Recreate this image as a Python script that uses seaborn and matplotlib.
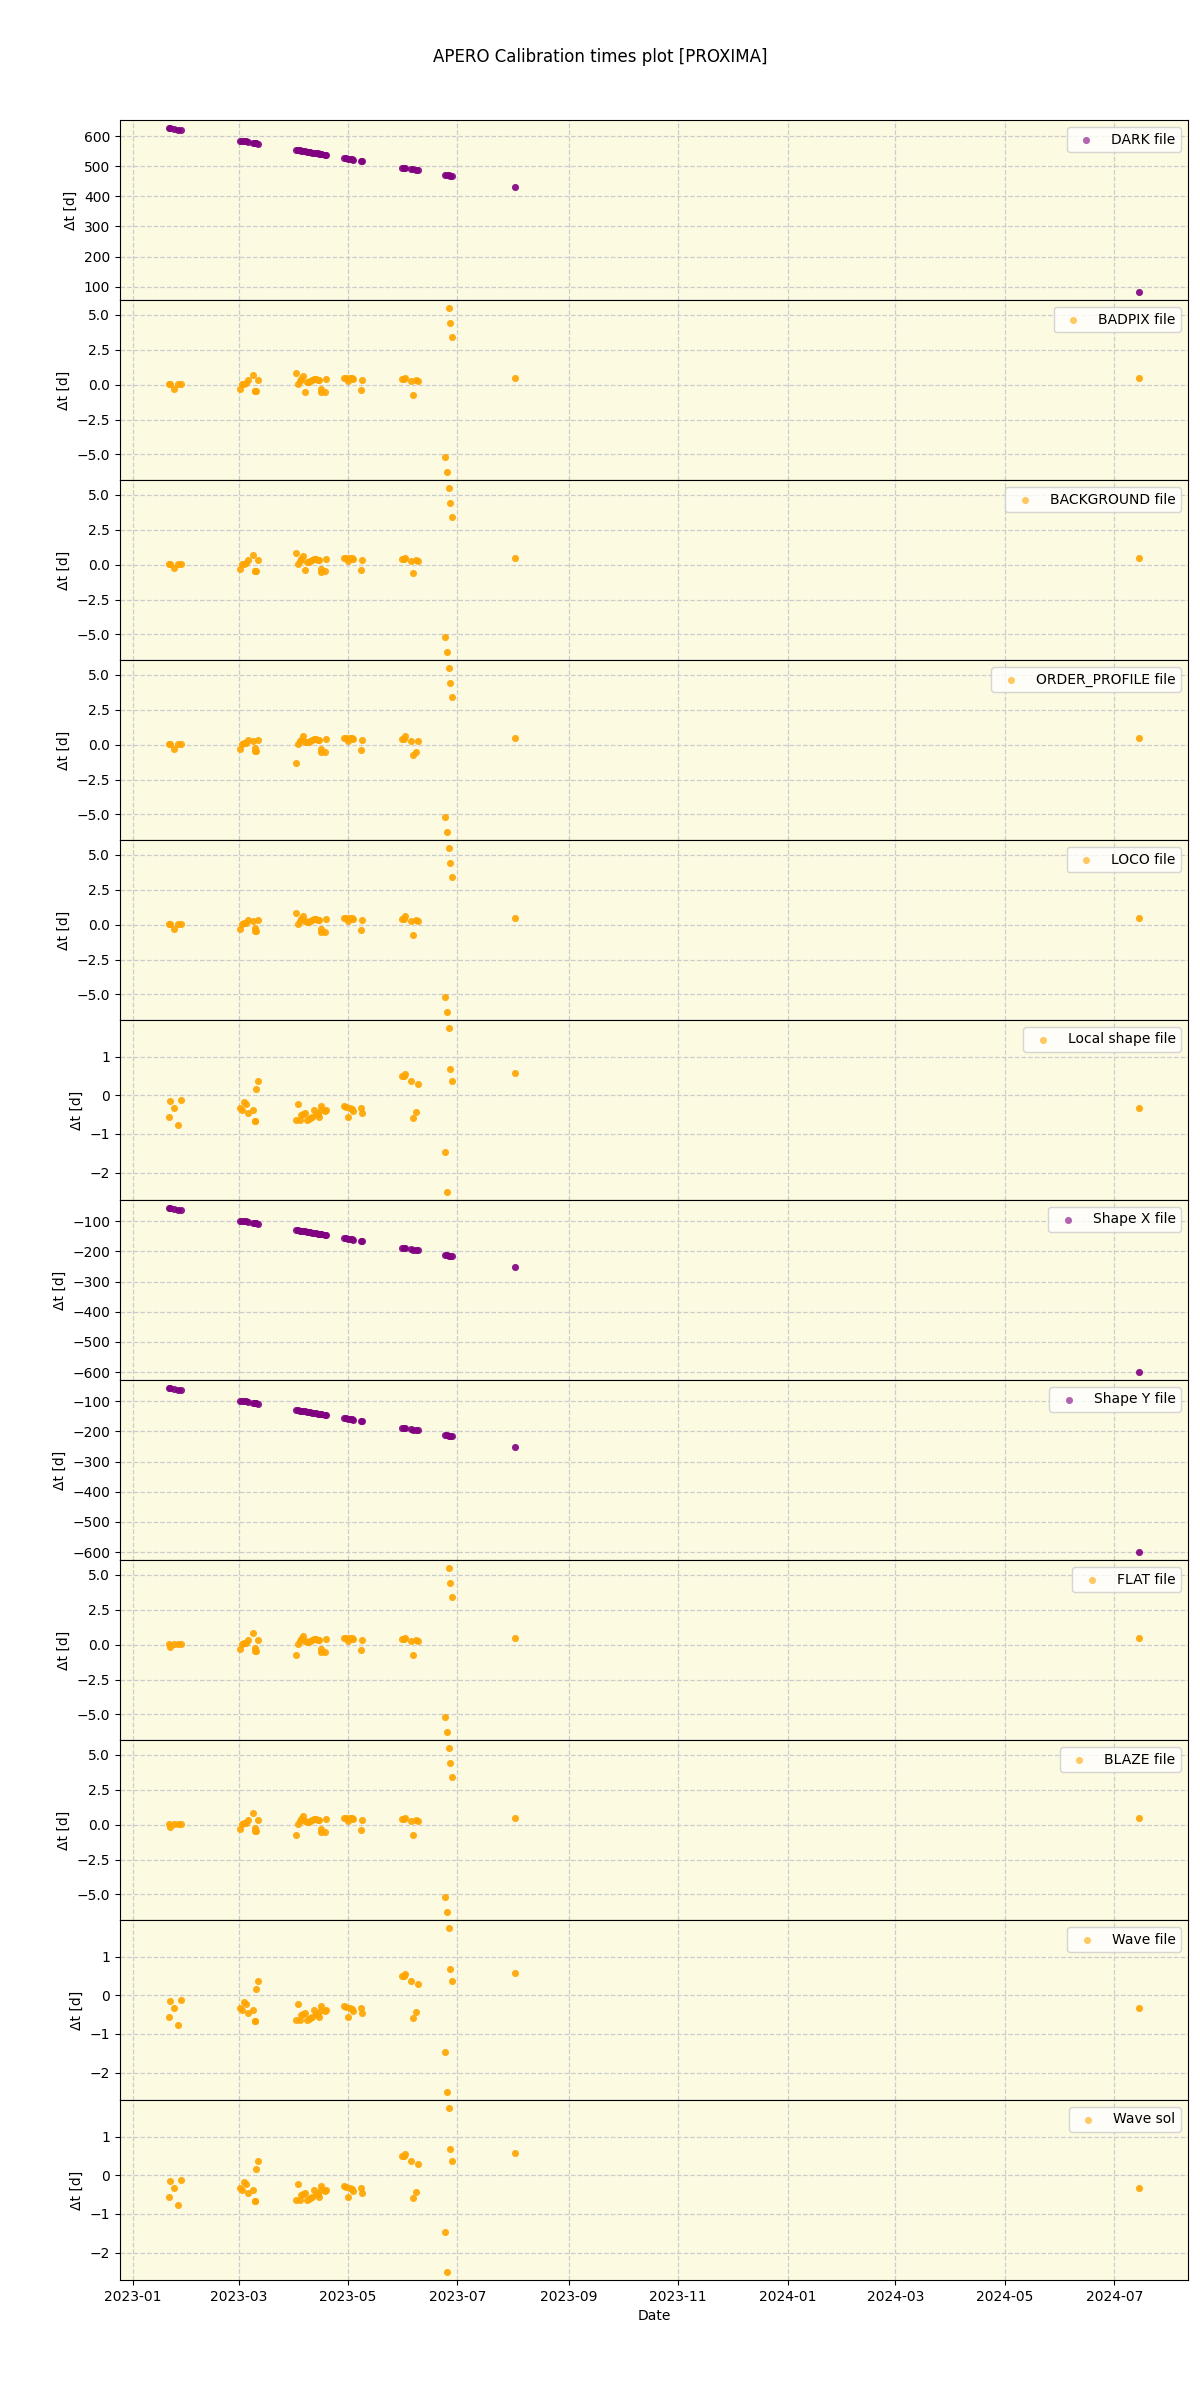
import matplotlib
matplotlib.use('Agg')
import matplotlib.pyplot as plt
import matplotlib.dates as mdates
import seaborn as sns
import pandas as pd

# ---------------- data ----------------
obs_dates = [
    '2023-01-21', '2023-01-22', '2023-01-24', '2023-01-26', '2023-01-28',
    '2023-03-02', '2023-03-03', '2023-03-04', '2023-03-05', '2023-03-06',
    '2023-03-09', '2023-03-10', '2023-03-10', '2023-03-11', '2023-03-12',
    '2023-04-02', '2023-04-03', '2023-04-04', '2023-04-05', '2023-04-06',
    '2023-04-07', '2023-04-08', '2023-04-09', '2023-04-10', '2023-04-11',
    '2023-04-12', '2023-04-13', '2023-04-14', '2023-04-15', '2023-04-16',
    '2023-04-16', '2023-04-18', '2023-04-19',
    '2023-04-29', '2023-04-30', '2023-05-01', '2023-05-02', '2023-05-03',
    '2023-05-04', '2023-05-08', '2023-05-09',
    '2023-05-31', '2023-06-01', '2023-06-02', '2023-06-05', '2023-06-06',
    '2023-06-08', '2023-06-09',
    '2023-06-24', '2023-06-25', '2023-06-26', '2023-06-27', '2023-06-28',
    '2023-08-02', '2024-07-15',
]

dark_dt = [
    626, 625, 623, 621, 619,
    585, 584, 583, 582, 581, 578, 577, 577, 576, 575,
    554, 553, 552, 551, 550, 549, 548, 547, 546, 545, 544, 543, 542, 541, 540, 540, 538, 537,
    527, 526, 525, 524, 523, 522, 518, 517,
    495, 494, 493, 490, 489, 487, 486,
    471, 470, 469, 468, 467,
    432, 83,
]

badpix_dt = [
    0.05, 0.05, -0.30, 0.05, 0.05,
    -0.31, 0.05, 0.07, 0.12, 0.29, 0.71, -0.43, -0.43, -0.43, 0.33,
    0.83, 0.05, 0.24, 0.40, 0.64, -0.52, 0.17, 0.19, 0.24, 0.29, 0.40, 0.40, 0.36, 0.36, -0.31, -0.52, -0.52, 0.40,
    0.48, 0.48, 0.24, 0.48, 0.48, 0.40, -0.38, 0.29,
    0.40, 0.40, 0.48, 0.24, -0.74, 0.36, 0.24,
    -5.16, -6.24, 5.46, 4.39, 3.39,
    0.46, 0.50,
]

background_dt = [
    0.05, 0.05, -0.25, 0.05, 0.05,
    -0.31, 0.05, 0.07, 0.12, 0.29, 0.71, -0.43, -0.43, -0.43, 0.33,
    0.83, 0.05, 0.24, 0.40, 0.64, -0.40, 0.17, 0.19, 0.24, 0.29, 0.40, 0.40, 0.36, 0.36, -0.31, -0.50, -0.45, 0.40,
    0.48, 0.48, 0.24, 0.48, 0.48, 0.40, -0.38, 0.29,
    0.40, 0.40, 0.48, 0.24, -0.60, 0.36, 0.24,
    -5.16, -6.24, 5.46, 4.39, 3.39,
    0.46, 0.50,
]

order_profile_dt = [
    0.05, 0.05, -0.30, 0.05, 0.05,
    -0.31, 0.05, 0.12, 0.12, 0.31, 0.24, -0.24, -0.43, -0.43, 0.36,
    -1.31, 0.05, 0.24, 0.36, 0.64, 0.19, 0.17, 0.19, 0.24, 0.29, 0.40, 0.40, 0.36, 0.36, -0.31, -0.52, -0.52, 0.40,
    0.48, 0.48, 0.24, 0.48, 0.48, 0.40, -0.38, 0.29,
    0.40, 0.40, 0.60, 0.24, -0.74, -0.50, 0.24,
    -5.16, -6.24, 5.46, 4.39, 3.39,
    0.50, 0.50,
]

loco_dt = [
    0.05, 0.05, -0.30, 0.05, 0.05,
    -0.31, 0.05, 0.12, 0.12, 0.31, 0.24, -0.24, -0.43, -0.43, 0.36,
    0.83, 0.05, 0.24, 0.40, 0.64, 0.24, 0.17, 0.19, 0.24, 0.29, 0.40, 0.40, 0.36, 0.36, -0.31, -0.52, -0.52, 0.40,
    0.48, 0.48, 0.24, 0.48, 0.48, 0.40, -0.38, 0.29,
    0.40, 0.40, 0.60, 0.24, -0.74, 0.36, 0.24,
    -5.16, -6.24, 5.46, 4.39, 3.39,
    0.50, 0.50,
]

local_shape_dt = [
    -0.56, -0.15, -0.32, -0.76, -0.11,
    -0.32, -0.39, -0.16, -0.22, -0.47, -0.37, -0.66, -0.67, 0.16, 0.38,
    -0.63, -0.22, -0.63, -0.52, -0.49, -0.45, -0.65, -0.62, -0.60, -0.55, -0.39, -0.49, -0.49, -0.57, -0.39, -0.27, -0.41, -0.37,
    -0.28, -0.30, -0.55, -0.33, -0.36, -0.41, -0.32, -0.46,
    0.50, 0.49, 0.55, 0.38, -0.60, -0.42, 0.30,
    -1.48, -2.50, 1.74, 0.69, 0.38,
    0.58, -0.33,
]

shape_x_dt = [
    -57, -58, -60, -62, -64,
    -98, -99, -100, -101, -102, -105, -106, -106, -107, -108,
    -129, -130, -131, -132, -133, -134, -135, -136, -137, -138, -139, -140, -141, -142, -143, -143, -145, -146,
    -156, -157, -158, -159, -160, -161, -165, -166,
    -188, -189, -190, -193, -194, -196, -197,
    -212, -213, -214, -215, -216,
    -251, -599,
]

shape_y_dt = [
    -57, -58, -60, -62, -64,
    -98, -99, -100, -101, -102, -105, -106, -106, -107, -108,
    -129, -130, -131, -132, -133, -134, -135, -136, -137, -138, -139, -140, -141, -142, -143, -143, -145, -146,
    -156, -157, -158, -159, -160, -161, -165, -166,
    -188, -189, -190, -193, -194, -196, -197,
    -212, -213, -214, -215, -216,
    -251, -599,
]

flat_dt = [
    0.05, -0.20, 0.05, 0.05, 0.05,
    -0.31, 0.05, 0.12, 0.12, 0.31, 0.80, -0.24, -0.43, -0.43, 0.36,
    -0.75, 0.05, 0.24, 0.40, 0.64, 0.24, 0.17, 0.19, 0.24, 0.29, 0.40, 0.40, 0.36, 0.36, -0.31, -0.52, -0.52, 0.40,
    0.48, 0.48, 0.24, 0.48, 0.48, 0.40, -0.38, 0.29,
    0.40, 0.40, 0.48, 0.24, -0.74, 0.36, 0.24,
    -5.16, -6.24, 5.46, 4.39, 3.39,
    0.50, 0.50,
]

blaze_dt = [
    0.05, -0.20, 0.05, 0.05, 0.05,
    -0.31, 0.05, 0.12, 0.12, 0.31, 0.80, -0.24, -0.43, -0.43, 0.36,
    -0.75, 0.05, 0.24, 0.40, 0.64, 0.24, 0.17, 0.19, 0.24, 0.29, 0.40, 0.40, 0.36, 0.36, -0.31, -0.52, -0.52, 0.40,
    0.48, 0.48, 0.24, 0.48, 0.48, 0.40, -0.38, 0.29,
    0.40, 0.40, 0.48, 0.24, -0.74, 0.36, 0.24,
    -5.16, -6.24, 5.46, 4.39, 3.39,
    0.50, 0.50,
]

wave_file_dt = [
    -0.56, -0.15, -0.32, -0.76, -0.11,
    -0.32, -0.39, -0.16, -0.22, -0.47, -0.37, -0.66, -0.67, 0.16, 0.38,
    -0.63, -0.22, -0.63, -0.52, -0.49, -0.45, -0.65, -0.62, -0.60, -0.55, -0.39, -0.49, -0.49, -0.57, -0.39, -0.27, -0.41, -0.37,
    -0.28, -0.30, -0.55, -0.33, -0.36, -0.41, -0.32, -0.46,
    0.50, 0.49, 0.55, 0.38, -0.60, -0.42, 0.30,
    -1.48, -2.50, 1.74, 0.69, 0.38,
    0.58, -0.33,
]

wave_sol_dt = [
    -0.56, -0.15, -0.32, -0.76, -0.11,
    -0.32, -0.39, -0.16, -0.22, -0.47, -0.37, -0.66, -0.67, 0.16, 0.38,
    -0.63, -0.22, -0.63, -0.52, -0.49, -0.45, -0.65, -0.62, -0.60, -0.55, -0.39, -0.49, -0.49, -0.57, -0.39, -0.27, -0.41, -0.37,
    -0.28, -0.30, -0.55, -0.33, -0.36, -0.41, -0.32, -0.46,
    0.50, 0.49, 0.55, 0.38, -0.60, -0.42, 0.30,
    -1.48, -2.50, 1.74, 0.69, 0.38,
    0.58, -0.33,
]

panel_labels = ['DARK file', 'BADPIX file', 'BACKGROUND file', 'ORDER_PROFILE file',
                'LOCO file', 'Local shape file', 'Shape X file', 'Shape Y file',
                'FLAT file', 'BLAZE file', 'Wave file', 'Wave sol']
panel_values = [dark_dt, badpix_dt, background_dt, order_profile_dt, loco_dt,
                local_shape_dt, shape_x_dt, shape_y_dt, flat_dt, blaze_dt,
                wave_file_dt, wave_sol_dt]
panel_colors = ['purple', 'orange', 'orange', 'orange', 'orange', 'orange',
                'purple', 'purple', 'orange', 'orange', 'orange', 'orange']

title = 'APERO Calibration times plot [PROXIMA]'

# ---------------- plot ----------------
dates = pd.to_datetime(obs_dates)

fig, axes = plt.subplots(len(panel_labels), 1, figsize=(12, 24), dpi=100, sharex=True)
fig.subplots_adjust(left=0.1, right=0.99, top=0.95, bottom=0.05, hspace=0)

for ax, label, vals, color in zip(axes, panel_labels, panel_values, panel_colors):
    ax.set_facecolor('#fcfae1')
    ax.set_axisbelow(True)
    sns.scatterplot(x=dates, y=vals, ax=ax, color=color, s=26, linewidth=0,
                    alpha=0.9, label=label)
    ax.grid(True, linestyle='--', color='#cccccc', linewidth=0.9)
    ax.set_ylabel('Δt [d]')
    ax.set_xlabel('')
    leg = ax.legend(loc='upper right')
    for h in leg.legend_handles:
        h.set_alpha(0.6)

axes[-1].xaxis.set_major_locator(mdates.MonthLocator(bymonth=[1, 3, 5, 7, 9, 11]))
axes[-1].xaxis.set_major_formatter(mdates.DateFormatter('%Y-%m'))
axes[-1].set_xlabel('Date')
fig.suptitle(title, fontsize=12)

fig.savefig('out.png', dpi=100)
